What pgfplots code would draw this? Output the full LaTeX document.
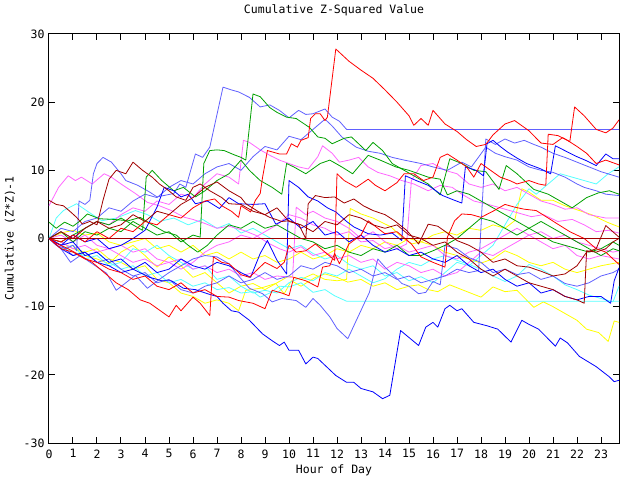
\documentclass[border=0pt]{standalone}
\usepackage{pgfplots}
\pgfplotsset{compat=1.18}
\usepackage{fontspec}
\setmainfont{DejaVu Sans Mono}
\definecolor{cred}{HTML}{FF0000}
\definecolor{cdred}{HTML}{A00000}
\definecolor{cgreen}{HTML}{00A000}
\definecolor{cblue}{HTML}{0000FF}
\definecolor{cslate}{HTML}{6060FF}
\definecolor{cmag}{HTML}{FF66FF}
\definecolor{ccyan}{HTML}{55FFFF}
\definecolor{cyel}{HTML}{FFFF00}
\newcommand{\gf}{\fontsize{11.5bp}{13bp}\selectfont}
\begin{document}
\begin{tikzpicture}
\path[use as bounding box] (-49bp,-37bp) rectangle (591bp,443bp);
\begin{axis}[
  scale only axis, width=570bp, height=409bp,
  xmin=0, xmax=23.75, ymin=-30, ymax=30,
  axis line style={line width=1bp, black},
  xtick={0,...,23}, ytick={-30,-20,-10,0,10,20,30},
  yticklabels={-30,-20,-10,0,10,20,30},
  xticklabels={0,1,2,3,4,5,6,7,8,9,10,11,12,13,14,15,16,17,18,19,20,21,22,23},
  xtick pos=both, ytick pos=both, xticklabel pos=left, yticklabel pos=left,
  tick align=inside, major tick length=6bp,
  tick style={line width=1bp, black},
  every tick label/.append style={font=\gf},
  xticklabel style={yshift=-3bp},
  yticklabel style={xshift=-1bp},
  title={Cumulative Z-Squared Value},
  title style={font=\gf, at={(axis description cs:0.5,1)}, anchor=center, yshift=18bp},
  xlabel={Hour of Day},
  xlabel style={font=\gf, at={(axis description cs:0.5,0)}, anchor=center, yshift=-27bp},
  ylabel={Cumulative (Z*Z)-1},
  ylabel style={font=\gf, at={(axis description cs:0,0.5)}, anchor=center, rotate=0, yshift=39bp},
  clip=true,
  every axis plot/.append style={line width=0.8bp, no markers, line join=round},
]
% yellows
\addplot[cyel] coordinates {(0,0)(0.5,-0.5)(1,-1.5)(1.5,-2)(2,-1.5)(2.5,-3)(3,-3.5)(3.5,-4.5)(4,-4)(4.5,-6)(5,-6.5)(5.5,-8)(6,-8.5)(6.5,-9.5)(7,-9)(7.5,-9.5)(7.9,-10.6)(8.2,-7.6)(8.8,-7.3)(9.45,-6.6)(9.8,-8.1)(10.1,-6.2)(10.5,-7)(11.1,-5.7)(11.5,-5.2)(12,-5.7)(12.45,-6.4)(13,-6)(13.5,-7)(14,-6.5)(14.5,-7.5)(15,-7)(15.4,-6.8)(15.8,-7.5)(16.2,-7.8)(16.7,-6.8)(17.2,-7.5)(18,-8.6)(18.5,-7.1)(19,-7.8)(19.5,-7.6)(20.2,-10.1)(20.6,-9.3)(21,-10)(21.5,-11)(22,-12)(22.4,-13.3)(22.9,-13.8)(23.3,-15.1)(23.55,-12.1)(23.75,-12.3)};
\addplot[cyel] coordinates {(0,0)(0.5,-1.5)(1,-1)(1.5,-2.5)(2,-3)(2.5,-3.7)(3,-2)(3.5,-1)(4,-2.5)(4.5,-4.2)(5,-2.7)(5.5,-4)(6,-5.7)(6.5,-5)(7,-6.5)(7.5,-8)(8,-7)(8.5,-6.6)(9,-7.5)(9.5,-6.5)(10,-5.5)(10.5,-6)(11,-5.2)(11.5,-6)(12,-6.2)(12.4,-6)(12.55,4.4)(13,3.6)(13.5,3)(14.25,1.7)(14.7,0.2)(15.1,-0.8)(15.5,-0.5)(16,-1)(16.5,-2)(17,-2.5)(17.5,-3)(18,-3.6)(18.5,-3)(19,-1.8)(19.5,-2.5)(20,-3.5)(20.5,-4)(21,-3.5)(21.5,-4.5)(22,-5)(22.5,-4.5)(23,-4)(23.75,-3.5)};
\addplot[cyel] coordinates {(0,0)(0.5,0.8)(1,1.2)(1.5,0.5)(2,0.8)(2.5,-0.5)(3,-1)(3.5,-0.5)(4,0)(4.5,-1.5)(5,-1)(5.5,-2)(6,-1)(6.5,-2.5)(7,-2)(7.5,-3)(8,-2)(8.5,-3)(9,-2.5)(9.5,-3.5)(10,-3)(10.5,-2)(11,-3)(11.5,-2.5)(12,-1.5)(12.5,-2)(13,-1)(13.5,-1.5)(14,-0.5)(14.5,-1)(15,0)(15.5,-0.5)(16,0.5)(16.5,1)(17,0.5)(17.5,1.5)(18,1.2)(18.5,2)(19,1.5)(19.4,2.6)(19.7,7.3)(20,6.8)(20.5,5.6)(21,5.6)(21.5,4.8)(22.1,4.1)(22.6,3.5)(23.25,2.4)(23.75,1.7)};
% cyans
\addplot[ccyan] coordinates {(0,0)(0.5,-1)(1,-2)(1.5,-2.5)(2,-2)(2.5,-3.5)(3,-4.5)(3.5,-4)(4,-5.5)(4.5,-5)(5,-6.5)(5.5,-6)(6,-7)(6.5,-6.5)(7,-7.5)(7.5,-7.2)(8,-8)(8.5,-7.8)(8.8,-8.6)(9.2,-8)(9.6,-7)(10,-7.1)(10.5,-6.5)(11,-7.9)(11.5,-7.5)(11.9,-8.4)(12.4,-9.2)(23.75,-9.2)};
\addplot[ccyan] coordinates {(0,0)(0.3,3)(0.6,4.1)(1.15,5.1)(1.6,4)(2.2,2.6)(2.8,3)(3.6,4.1)(4.1,3.5)(4.6,2.5)(5.2,3)(5.8,2)(6.4,2.8)(7,1.5)(7.5,2.2)(8,0.8)(8.5,1.5)(9,0.5)(9.5,-0.5)(10,-1.5)(10.5,-1)(11,-2.2)(11.5,-3)(12,-2.5)(12.5,-3.8)(13,-4.5)(13.5,-4)(14,-5.5)(14.5,-5)(15,-6.2)(15.5,-5.6)(16,-6.5)(16.5,-5)(17,-3.5)(17.5,-4)(18,-2.5)(18.5,-1)(19,2)(19.5,5)(20,7.3)(20.3,6.5)(20.8,8)(21.3,9.5)(21.8,9)(22.3,8.5)(22.8,8)(23.3,9.5)(23.75,10.5)};
\addplot[ccyan] coordinates {(0,0)(0.5,-1.5)(1,-1)(1.5,-3)(2,-2.5)(2.5,-4)(3,-3.5)(3.5,-1.5)(4,-2)(4.5,-1)(5,-2.5)(5.5,-3.5)(6,-4.5)(6.5,-4)(7,-6)(7.5,-5.5)(8,-7)(8.5,-8)(9,-7.6)(9.5,-8)(10,-6.5)(10.5,-5.7)(11,-6.2)(11.5,-5)(12,-5.5)(12.5,-4.5)(13,-5.5)(13.5,-6.5)(14,-5.9)(14.5,-4.5)(15,-3.5)(15.5,-4)(16,-3)(16.5,-2.5)(17,-3.2)(17.5,-3.8)(18,-4.5)(18.5,-5.5)(19,-6.3)(19.5,-5.5)(20,-3.8)(20.5,-4.5)(21,-5.5)(21.5,-6.8)(22,-7.5)(22.5,-8.3)(23,-8.8)(23.5,-9.3)(23.75,-7)};
% magentas
\addplot[cmag] coordinates {(0,4.8)(0.4,7.5)(0.8,9.2)(1.1,8.5)(1.35,9)(1.8,8)(2.3,9.5)(2.6,9)(3,8)(3.6,6.6)(4.1,5.3)(4.6,4.8)(5.1,4.1)(5.65,3.1)(6,2.8)(6.5,2.2)(7,1.5)(7.5,1.8)(8.1,1.2)(8.6,0.5)(9.2,-0.8)(9.6,-1.5)(10,-2)(10.5,-1.2)(11,-2.5)(11.5,-2)(12,-3)(12.5,-2.5)(13,-3.5)(13.5,-3)(14,-4.5)(14.5,-3.5)(15,-4)(15.5,-5)(16,-4.5)(16.5,-5.5)(17,-5)(17.5,-3.5)(18,-2)(18.5,-2.5)(19,-1.5)(19.5,-0.5)(20,0.5)(20.5,-0.5)(21,-1.5)(21.5,-1)(22,-2.5)(22.5,-3)(23,-2.5)(23.75,-3)};
\addplot[cmag] coordinates {(0,0)(0.5,1)(1,0)(1.5,1.5)(2,2.5)(2.5,2)(3,3.5)(3.5,4.5)(4,4)(4.5,5.5)(5,5)(5.5,6.5)(6,6)(6.5,8)(7,9.5)(7.5,9)(7.9,8)(8.1,14.4)(8.35,14.1)(8.8,13)(9.2,12.2)(9.6,11.5)(10,11)(10.4,10.5)(10.8,10.2)(11.2,12)(11.4,13.6)(11.8,12.5)(12.1,11.2)(12.5,11.5)(12.9,11.9)(13.3,10.5)(13.7,9.7)(14.2,9.2)(14.7,8.5)(15.2,8)(15.8,7)(16.3,7.8)(16.8,7.5)(17.2,6.5)(17.7,5.5)(18.3,5)(18.8,4.5)(19.3,4)(20.1,3.2)(20.6,3.5)(21.2,2.5)(21.8,2.8)(22.3,2)(22.8,1)(23.3,1.2)(23.75,0.8)};
\addplot[cmag] coordinates {(0,0)(0.5,0.5)(1,-0.5)(1.5,0.5)(2,-1)(2.5,-1.5)(3,-1)(3.5,-2)(4,-1.5)(4.5,-3)(5,-3.5)(5.5,-3)(6,-4.5)(6.5,-4)(7,-5)(7.5,-4.5)(8,-5.5)(8.5,-5)(9,-6)(9.5,-5.5)(10.15,-5.7)(10.3,4.6)(10.7,3.5)(11,4)(11.5,3)(12,2.5)(12.5,1.5)(13,0)(13.5,1)(14,-0.5)(14.5,-1.5)(14.9,-0.8)(15.1,8.5)(15.5,10.7)(16,11)(16.5,10)(17,9.5)(17.5,8)(18,7.5)(18.5,8)(19,7)(19.5,7.5)(20,6.5)(20.5,5.5)(21,5)(21.5,4.3)(22,4.5)(22.5,3.5)(23.2,3)(23.75,3)};
\addplot[cmag] coordinates {(0,0)(0.5,-0.5)(1,-1.5)(1.5,-1)(2,-2)(2.5,-1.5)(3,-2.5)(3.5,-3.5)(4,-3)(4.5,-4)(5,-3.5)(5.5,-4.5)(6,-3.5)(6.5,-2)(7,-1)(7.5,-0.5)(8,0.5)(8.5,0)(9,1)(9.5,2)(10,3.5)(10.5,3)(11,2)(11.5,1.5)(12,0.5)(12.5,1)(13,-0.5)(13.5,-0.3)(14,-1.5)(14.5,-1)(15,-2)(15.5,-1.5)(16,-1)(16.5,-2.5)(17,-3)(17.5,-2)(18,-1.5)(18.5,-0.5)(19,0.5)(19.5,1.5)(20,0.5)(20.5,1)(21,0)(21.5,0.5)(22,-0.5)(22.5,-1)(23,-1.5)(23.5,-2)(23.75,-1.8)};
% slateblues
\addplot[cslate] coordinates {(0,0)(0.3,-1)(0.7,-1.5)(1,-1)(1.15,-1.8)(1.25,5.5)(1.5,5)(1.7,5.6)(1.85,9.5)(2,11)(2.25,11.9)(2.6,11.2)(3,9.5)(3.2,8.5)(3.7,7.8)(4.2,6.8)(4.5,6.1)(5.2,6.6)(5.45,8)(5.7,7.5)(6.1,12.4)(6.4,11.9)(6.7,13.4)(7.25,22.2)(7.6,21.8)(7.9,21.5)(8.35,20.7)(8.8,19.3)(9.2,19.6)(9.6,18.8)(10,17.7)(10.4,18.8)(10.7,18.2)(11,18.3)(11.5,19)(11.8,17.8)(12.1,17.2)(12.4,16)(23.75,16)};
\addplot[cslate] coordinates {(0,0)(0.5,-1.5)(0.9,-3.5)(1.3,-2.5)(1.8,-3.7)(2.4,-5.1)(2.8,-7.6)(3.2,-6.5)(3.6,-5.4)(4.1,-7.3)(4.6,-6)(5,-5)(5.5,-4)(6,-3)(6.5,-2.5)(7,-2.7)(7.5,-3.7)(7.9,-5.5)(8.35,-7.3)(8.9,-8.1)(9.3,-9.3)(9.7,-8.8)(10.3,-9.1)(10.7,-10.1)(11,-8.8)(11.3,-9.8)(11.7,-11.5)(12,-13.2)(12.45,-14.7)(12.9,-11.3)(13.35,-7.9)(13.7,-3)(14,-4.2)(14.45,-5.7)(14.7,-6.6)(15,-7)(15.4,-8.1)(15.7,-7.9)(16,-6.3)(16.3,-6.8)(16.5,-1)(17,-1.5)(17.5,-2.8)(18,-3.5)(18.5,-5)(19,-4.5)(19.5,-5.3)(20,-5)(20.5,-6)(21,-5.5)(21.5,-6.6)(22,-7)(22.5,-6.5)(23,-5.5)(23.5,-5)(23.75,-4.5)};
\addplot[cslate] coordinates {(0,0)(0.5,-1)(1,-2.5)(1.5,-2)(2,-3.5)(2.5,-3)(3,-4.5)(3.5,-5.5)(4,-5)(4.5,-6.5)(5,-6)(5.5,-7.5)(6,-8)(6.5,-7)(7,-6.5)(7.5,-5.5)(8,-6.5)(8.5,-6)(9,-5)(9.5,-6)(10,-5.5)(10.5,-4)(11,-4.5)(11.5,-3.5)(12,-4)(12.5,-5)(13,-4.5)(13.5,-5.5)(14,-5)(14.5,-6)(15,-5.5)(15.5,-6.5)(16,-6)(16.5,-5.5)(17,-4.5)(17.5,-5)(17.9,-4.7)(18.2,14.6)(18.6,13.8)(19,14.6)(19.4,14)(19.8,14.4)(20.2,13.8)(20.5,13.4)(21,12.5)(21.5,11.9)(22,11.2)(22.5,10.5)(23,9.8)(23.75,9)};
\addplot[cslate] coordinates {(0,0)(0.5,1.5)(1,1)(1.5,2.5)(2,3)(2.5,4.5)(3,4)(3.5,5.5)(4,6.5)(4.5,6)(5,7.5)(5.5,8.5)(6,8)(6.5,9.5)(7,10.5)(7.5,11)(8,10)(8.5,12)(9,13.5)(9.5,13)(10,15)(10.5,14.5)(11,16)(11.5,17.5)(11.8,16.5)(12.2,14.9)(12.8,13.4)(13.3,12.8)(13.8,12.5)(14.3,11.9)(14.8,11.5)(15.5,11)(16,10.5)(16.6,10)(17.2,11.2)(17.6,10.5)(18.2,13.4)(18.6,12.5)(19,12)(19.5,11.5)(20,10.5)(20.5,10)(21,9.7)(21.5,9)(22,8)(22.3,7.5)(22.8,7)(23.2,6.5)(23.75,6.3)};
% greens
\addplot[cgreen] coordinates {(0,0)(0.5,1)(1,-0.5)(1.5,1)(2,0.5)(2.5,1.5)(3,1)(3.5,2.5)(4,1.5)(4.5,0.5)(5,1)(5.5,-0.5)(6,0.5)(6.3,0.2)(6.45,11)(6.7,12.9)(7,13)(7.3,12.9)(7.7,12.3)(8,11.9)(8.2,11.5)(8.5,21.2)(8.8,20.8)(9.2,19.2)(9.5,18.5)(9.9,17.8)(10.3,17.6)(10.85,16.3)(11.2,14.9)(11.5,14.7)(11.8,13.9)(12.3,14.7)(12.6,14.9)(13.2,12.9)(13.5,14.1)(13.9,12.9)(14.3,11)(14.8,10)(15.3,9)(15.8,8)(16.3,6.4)(16.7,11.7)(17.2,11)(17.7,10)(18.2,9.8)(18.75,7.2)(19.05,10.7)(19.5,9.5)(20.2,7.2)(20.8,6.5)(21.3,5.5)(21.8,4.5)(22.4,6)(22.9,6.7)(23.35,7)(23.75,6.5)};
\addplot[cgreen] coordinates {(0,0)(0.5,-0.5)(1,0.5)(1.5,1.5)(2,2.5)(2.5,2)(3,3)(3.5,2)(3.9,1.2)(4.05,9)(4.3,10)(4.7,8.5)(5.2,7)(5.6,7.5)(6.1,6.1)(6.5,7)(7,8.5)(7.5,9.5)(8,11.5)(8.35,10)(8.8,8.5)(9.3,7.5)(9.7,6.5)(9.9,11)(10.2,10.5)(10.7,9.5)(11.3,11)(11.7,11.5)(12.2,10.5)(12.65,9.5)(13.3,12.2)(13.8,11.5)(14.45,10.5)(15,10)(15.8,9)(16.3,8.7)(16.6,6.4)(17,7)(17.5,6.5)(18,5.5)(18.5,4.5)(19,3.5)(19.5,2.5)(20,1.5)(20.5,0.5)(21,-0.5)(21.5,-1)(22,-1.5)(22.5,-2)(23,-1.5)(23.5,-0.5)(23.75,-1)};
\addplot[cgreen] coordinates {(0,2.4)(0.3,1.5)(0.65,2.4)(1,1.8)(1.3,2.6)(1.6,3.6)(2.1,2.9)(2.7,2.8)(3.3,2.6)(3.8,3.1)(4.3,2)(4.8,1)(5.3,0.5)(5.8,-1)(6.2,-2)(6.6,-1)(7,0.5)(7.5,2)(8,1.5)(8.5,2.5)(9,1.5)(9.5,2)(10,1)(10.5,0)(11,-0.5)(11.5,-1.5)(12,-1)(12.5,-2)(13,-2.5)(13.5,-1.5)(14,-2)(14.5,-1)(15,-2.5)(15.5,-2.5)(16,-1.8)(16.5,-1)(17,0)(17.5,1.5)(18,3)(18.5,2.5)(19,1.5)(19.5,0.5)(20,1.5)(20.5,2.5)(21,1.5)(21.5,0.5)(22,-0.5)(22.5,-1.5)(23,-2.5)(23.5,-1.5)(23.75,-1.8)};
% blues
\addplot[cblue] coordinates {(0,0)(0.5,-1.5)(1,-2.5)(1.5,-2)(2,-3.5)(2.5,-4)(3,-5)(3.5,-4.5)(4.2,-5.7)(4.7,-6.2)(5.1,-6.2)(5.6,-7.3)(6.1,-7.5)(6.6,-8.1)(7,-8.5)(7.25,-9.5)(7.6,-10.6)(7.9,-10.8)(8.35,-12)(8.9,-14)(9.3,-15)(9.6,-15.7)(9.8,-15.2)(10,-16.4)(10.4,-16.4)(10.7,-18.4)(11,-17.4)(11.2,-17.6)(11.5,-18.6)(11.95,-20.1)(12.4,-21.1)(12.7,-21.1)(13,-22)(13.5,-22.5)(13.9,-23.5)(14.2,-23)(14.65,-13.5)(15.4,-15.7)(15.7,-13)(16,-12.3)(16.2,-13)(16.5,-10.3)(16.7,-9.8)(17,-10.6)(17.2,-10.3)(17.7,-12.3)(18.25,-12.8)(18.7,-13.3)(19.25,-15.2)(19.7,-12)(20,-12.6)(20.4,-13.3)(21.1,-15.8)(21.3,-14.6)(21.6,-15.3)(22.1,-17.3)(22.8,-18.8)(23.35,-20.3)(23.55,-21)(23.75,-20.8)};
\addplot[cblue] coordinates {(0,0)(0.5,-1)(1,-0.5)(1.5,-2.5)(2,-2)(2.5,-3.5)(3,-3)(3.5,-4.5)(4,-3.5)(4.5,-5)(5,-4.5)(5.5,-3)(6,-4)(6.5,-4.5)(7,-3.5)(7.5,-4)(8,-5)(8.4,-5.7)(8.8,-2.2)(9.1,-0.3)(9.5,-3.2)(9.9,-5.2)(10,8.5)(10.4,7.5)(10.8,6.1)(11.2,5.5)(11.6,4.5)(11.95,3.9)(12.4,2.5)(12.7,1.7)(13.3,0.7)(13.8,0.5)(14.3,0.8)(14.7,-0.3)(14.85,9.2)(15.3,8.5)(15.8,7.8)(16.4,6.3)(16.9,5.6)(17.2,5.2)(17.35,10.5)(17.8,10)(18.1,9.2)(18.25,13.9)(18.5,14.4)(18.8,13.5)(19.1,12.7)(19.5,11.8)(19.9,11)(20.5,10.2)(20.9,9.5)(21.1,13.6)(21.6,12.7)(22,12)(22.4,11.4)(22.8,10.7)(23.2,12.4)(23.5,11.7)(23.75,11.7)};
\addplot[cblue] coordinates {(0,0)(0.5,-1)(1,0.5)(1.5,-0.5)(2,0)(2.5,-1.5)(3,-1)(3.5,0)(4,1.2)(4.5,4.6)(4.8,7.5)(5.2,7)(5.5,6.1)(5.8,6.5)(6.1,5.1)(6.6,5.5)(7.1,4.4)(7.5,6)(7.9,5.1)(8.5,5)(9,5.1)(9.45,2.1)(10,3)(10.5,1.5)(11,2.5)(11.5,0.5)(12,1)(12.5,-0.5)(13,0.5)(13.5,-1)(14,-2)(14.5,-1.5)(15,-2.5)(15.5,-2)(16,-3)(16.5,-3.5)(17,-2.5)(17.5,-4)(18,-5)(18.5,-4.5)(19,-6)(19.5,-7)(20,-6.5)(20.5,-8)(21,-7.5)(21.5,-8.5)(22,-9)(22.5,-8.5)(23,-8.5)(23.4,-9.5)(23.55,-6.2)(23.75,-4.3)};
% reds
\addplot[cred] coordinates {(0,0)(0.3,-0.7)(0.8,-1.5)(1.3,-2.5)(1.8,-3.5)(2.3,-5)(2.8,-6.5)(3.3,-7.5)(3.8,-9)(4.2,-9.5)(4.6,-10.5)(5,-11.5)(5.3,-9.8)(5.5,-10.6)(6,-8.6)(6.3,-9.5)(6.7,-11.3)(6.85,-2.7)(7.2,-3.5)(7.5,-3.7)(8,-5.3)(8.35,-5.7)(8.7,-4.5)(9,-3.5)(9.5,-4.4)(9.8,-3.5)(10,-1)(10.3,-2)(10.7,-1.8)(11.1,-0.8)(11.5,-2)(11.9,-3.2)(12,9.5)(12.3,8.5)(12.8,7.5)(13.3,8.7)(13.6,7.8)(14,7)(14.5,8.2)(14.8,9.5)(15.2,9.5)(15.6,8.5)(16,9)(16.3,11.9)(16.6,12.4)(17,11.5)(17.4,10.5)(17.7,9)(18,11)(18.4,10)(18.8,9)(19.2,8.5)(19.5,8)(20,8.5)(20.4,8)(20.7,7.8)(20.8,15.3)(21.2,15.1)(21.6,14.4)(22,13.5)(22.4,12.5)(22.8,11)(23.2,11.5)(23.75,10.8)};
\addplot[cred] coordinates {(0,0)(0.5,-1.5)(1,-2)(1.5,-3)(2,-3.5)(2.5,-4.5)(3,-5)(3.5,-6)(4,-5.5)(4.5,-7)(5,-7.5)(5.5,-6.5)(6,-8)(6.5,-7.5)(7,-8.5)(7.5,-8.6)(7.9,-9.1)(8.5,-9.5)(9,-10.3)(9.3,-7.6)(9.7,-8)(10,-8.4)(10.2,-5.7)(10.7,-6.2)(11.2,-7.1)(11.4,-4.2)(11.7,-4)(11.9,-2.2)(12.1,-3.7)(12.5,-0.8)(13,0.5)(13.3,2.6)(13.7,1.5)(14,0.7)(14.5,1)(15.1,-0.8)(15.5,-2.7)(16,-3.5)(16.5,-4.2)(16.6,0.2)(16.9,2.6)(17.2,3.6)(17.6,3.5)(18,3.1)(18.5,4)(19,5)(19.4,4.6)(19.8,4.3)(20.3,4.1)(20.8,3)(21.2,2.1)(21.7,1)(22.3,0)(22.8,-1.5)(23.2,-2)(23.5,-3)(23.75,-3.8)};
\addplot[cred] coordinates {(0,0)(0.5,-0.5)(1,0.5)(1.5,-0.5)(2,1)(2.5,0)(3,1.5)(3.5,1)(4,2.5)(4.5,2)(5,3.5)(5.5,3)(6,4.5)(6.5,5.5)(6.9,5.8)(7.2,4.8)(7.6,4)(7.9,3.1)(8,4.8)(8.4,3.9)(8.6,5.6)(8.8,6.6)(8.9,9)(9.1,12.9)(9.6,12.4)(9.9,12.4)(10.1,13.9)(10.35,13.4)(10.5,14.4)(10.8,14.8)(10.9,17.6)(11.1,18.3)(11.3,18.3)(11.5,17.3)(11.6,17.8)(11.95,27.8)(12.5,26)(13,24.7)(13.5,23.5)(14,21.8)(14.5,20)(15,18)(15.2,16.6)(15.5,17.6)(15.8,16.6)(16,18.8)(16.5,16.8)(17,15.7)(17.4,14.5)(17.8,13.5)(18.2,13.8)(18.5,15.2)(19,16.8)(19.4,17.3)(20,15.8)(20.5,14)(21,13.8)(21.4,14.8)(21.7,14.2)(21.9,19.3)(22.3,18)(22.8,16)(23.2,15.5)(23.5,16.2)(23.75,17.4)};
% dark reds
\addplot[cdred] coordinates {(0,5.6)(0.3,5)(0.6,4.8)(0.9,3.9)(1.15,3.1)(1.4,2.1)(1.7,2.5)(2,2)(2.25,5.6)(2.5,8.7)(2.8,10)(3.2,9.5)(3.5,11.2)(3.9,10)(4.3,9)(4.6,8)(5,7)(5.3,6.1)(5.7,5.6)(6,7.5)(6.3,8)(6.7,7)(7.2,6)(7.5,5.1)(8,5)(8.5,4)(9,3.5)(9.5,4.5)(10,2.5)(10.5,2)(11,1)(11.5,2.5)(12,2)(12.5,3.5)(13,3)(13.5,2)(14,1.5)(14.5,2)(15,0.5)(15.5,0)(16,-1)(16.5,-0.5)(17,-2)(17.5,-3)(18,-4.5)(18.5,-5.5)(19,-4.5)(19.5,-5.5)(20,-6.5)(20.5,-7)(21,-7.5)(21.5,-8.5)(22,-9)(22.3,-9.5)(22.4,-1.8)(22.8,-2)(23.2,-1.5)(23.5,-0.5)(23.75,0)};
\addplot[cdred] coordinates {(0,0)(0.5,1)(1,0)(1.5,1.5)(2,2.5)(2.5,1.5)(3,2)(3.5,3.5)(4,2.5)(4.5,4)(5,3.5)(5.5,5)(6,6)(6.5,7.5)(7,8.3)(7.5,7)(8,6)(8.2,5.1)(8.7,4)(9.2,3.1)(9.7,2.5)(10,2.6)(10.4,2.1)(10.7,0)(10.8,5.1)(11.1,6.3)(11.5,6)(11.9,6.1)(12.3,5.2)(12.7,5.8)(13.1,4.8)(13.5,4.1)(14,3.5)(14.4,2.6)(14.9,1.2)(15.4,-0.8)(15.8,2.1)(16.2,1.8)(16.6,0.8)(17,-0.3)(17.5,-1)(18,-2)(18.5,-3.5)(19,-3)(19.5,-4)(20,-4.2)(20.5,-4.8)(21,-5.5)(21.5,-5.2)(22,-4)(22.4,-2)(22.8,-1.5)(23.2,1.9)(23.75,0.2)};
\addplot[cdred, line width=1bp] coordinates {(0,0)(23.75,0)};
\end{axis}
\end{tikzpicture}
\end{document}
